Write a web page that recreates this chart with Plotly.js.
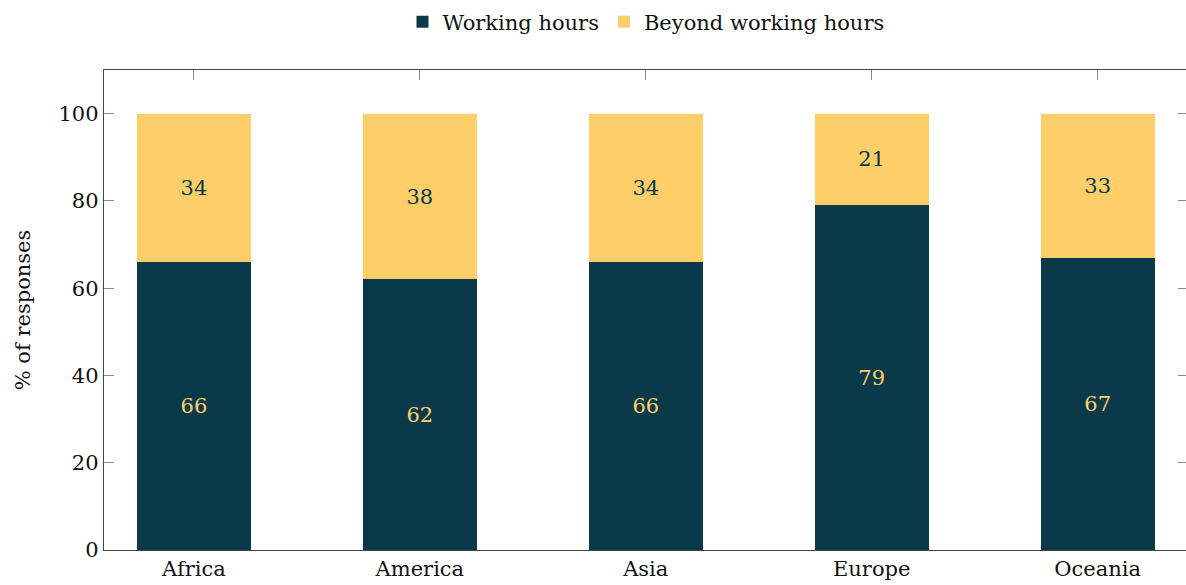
<!DOCTYPE html>
<html>
<head>
<meta charset="utf-8">
<script src="https://cdn.plot.ly/plotly-3.0.1.min.js"></script>
<style>
html,body{margin:0;padding:0;overflow:hidden;background:#fff;}
#chart{width:1188px;height:585px;}
</style>
</head>
<body>
<div id="chart"></div>
<script>
const categories = ["Africa", "America", "Asia", "Europe", "Oceania"];
const workingHours = [66, 62, 66, 79, 67];
const beyondHours = [34, 38, 34, 21, 33];
const seriesNames = ["Working hours", "Beyond working hours"];
const yTicks = [0, 20, 40, 60, 80, 100];

const dark = "#0a3a4a";
const yellow = "#fecf69";
const font = "DejaVu Serif";
const fs = 21;

const traces = [
  {
    type: "bar", name: seriesNames[0], x: categories, y: workingHours,
    marker: {color: dark, line: {width: 0}},
    text: workingHours.map(String), texttemplate: "%{text}",
    textposition: "inside", insidetextanchor: "middle",
    textfont: {family: font, size: fs, color: yellow},
    hoverinfo: "none"
  },
  {
    type: "bar", name: seriesNames[1], x: categories, y: beyondHours,
    marker: {color: yellow, line: {width: 0}},
    text: beyondHours.map(String), texttemplate: "%{text}",
    textposition: "inside", insidetextanchor: "middle",
    textfont: {family: font, size: fs, color: dark},
    hoverinfo: "none"
  }
];

const layout = {
  width: 1188, height: 585,
  margin: {l: 104, r: 0, t: 70, b: 35, autoexpand: false},
  barmode: "stack",
  bargap: 0.496,
  paper_bgcolor: "#fff", plot_bgcolor: "#fff",
  font: {family: font, size: fs, color: "#111"},
  showlegend: true,
  legend: {
    orientation: "h", x: 0.5, xanchor: "center", y: 1.1, yanchor: "middle",
    font: {family: font, size: fs, color: "#111"},
    traceorder: "normal", itemwidth: 30
  },
  xaxis: {
    type: "category", range: [-0.398, 4.4],
    showline: true, linecolor: "#444", linewidth: 1.2,
    mirror: "allticks", ticks: "inside", ticklen: 10, tickcolor: "#888", tickwidth: 1,
    showgrid: false, zeroline: false, layer: "below traces",
    tickfont: {family: font, size: fs, color: "#111"}
  },
  yaxis: {
    range: [0, 110], tickvals: yTicks, ticktext: yTicks.map(String),
    showline: true, linecolor: "#444", linewidth: 1.2,
    mirror: "allticks", ticks: "inside", ticklen: 10, tickcolor: "#888", tickwidth: 1,
    showgrid: false, zeroline: false,
    tickfont: {family: font, size: fs, color: "#111"},
    title: {text: "% of responses", font: {family: font, size: fs, color: "#111"}, standoff: 22}
  }
};

Plotly.newPlot("chart", traces, layout, {displayModeBar: false, staticPlot: true});
</script>
</body>
</html>
